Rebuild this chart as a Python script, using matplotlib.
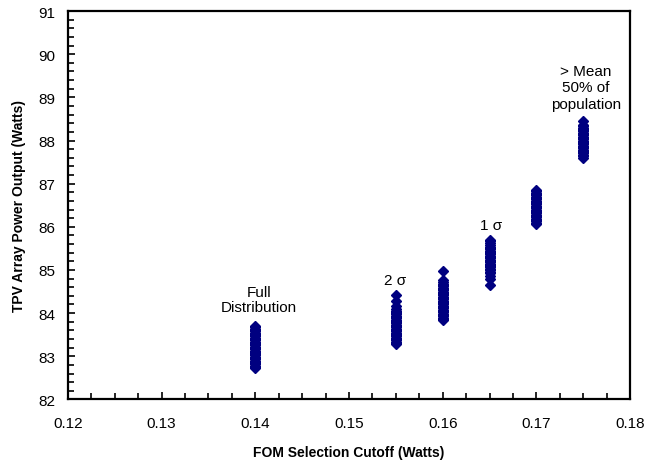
import matplotlib
matplotlib.use('Agg')
import matplotlib.pyplot as plt
from matplotlib.ticker import MultipleLocator

plt.rcParams['font.family'] = ['Liberation Sans', 'DejaVu Sans']

# FOM cutoff for each column of points
cutoffs = [0.14, 0.155, 0.16, 0.165, 0.17, 0.175]

# array power output (W)
pw_full = [82.72, 82.75, 82.78, 82.81, 82.84, 82.87, 82.9, 82.93, 82.96, 82.99, 83.02,
           83.05, 83.08, 83.1, 83.13, 83.16, 83.19, 83.22, 83.25, 83.28, 83.31, 83.34,
           83.37, 83.4, 83.43, 83.46, 83.49, 83.52, 83.55, 83.58, 83.61, 83.64, 83.67, 83.71]
pw_0155 = [83.28, 83.31, 83.34, 83.37, 83.4, 83.43, 83.46, 83.49, 83.52, 83.55, 83.58,
           83.61, 83.64, 83.67, 83.7, 83.73, 83.76, 83.79, 83.82, 83.85, 83.88, 83.91,
           83.94, 83.97, 84.0, 84.03, 84.06, 84.1, 84.17, 84.28, 84.43]
pw_016 = [83.83, 83.86, 83.89, 83.93, 83.96, 83.99, 84.02, 84.05, 84.08, 84.11, 84.14,
          84.17, 84.2, 84.23, 84.26, 84.29, 84.32, 84.35, 84.38, 84.41, 84.44, 84.47,
          84.5, 84.53, 84.56, 84.59, 84.62, 84.65, 84.68, 84.72, 84.77, 84.98]
pw_0165 = [84.65, 84.78, 84.86, 84.92, 84.96, 85.0, 85.03, 85.06, 85.09, 85.12, 85.15,
           85.18, 85.21, 85.24, 85.27, 85.3, 85.33, 85.36, 85.39, 85.42, 85.45, 85.48,
           85.51, 85.54, 85.58, 85.62, 85.66, 85.7]
pw_017 = [86.07, 86.1, 86.13, 86.16, 86.19, 86.22, 86.25, 86.28, 86.31, 86.34, 86.37,
          86.4, 86.43, 86.46, 86.49, 86.52, 86.55, 86.58, 86.61, 86.64, 86.67, 86.7,
          86.73, 86.76, 86.79, 86.82, 86.85]
pw_0175 = [87.6, 87.64, 87.67, 87.7, 87.73, 87.76, 87.79, 87.82, 87.85, 87.88, 87.91,
           87.94, 87.97, 88.0, 88.03, 88.06, 88.09, 88.12, 88.15, 88.18, 88.21, 88.24,
           88.27, 88.3, 88.33, 88.37, 88.45]
columns = [pw_full, pw_0155, pw_016, pw_0165, pw_017, pw_0175]

fig = plt.figure(figsize=(6.47, 4.64), dpi=100)
ax = fig.add_axes([0.105, 0.137, 0.869, 0.837])

for xc, vals in zip(cutoffs, columns):
    ax.plot([xc] * len(vals), vals, linestyle='none', marker='D', markersize=5,
            color='#000080', markeredgewidth=1.0, markeredgecolor='#000080')

ax.set_xlim(0.12, 0.18)
ax.set_ylim(82, 91)
ax.xaxis.set_major_locator(MultipleLocator(0.01))
ax.xaxis.set_minor_locator(MultipleLocator(0.0025))
ax.yaxis.set_major_locator(MultipleLocator(1))
ax.yaxis.set_minor_locator(MultipleLocator(0.2))
ax.xaxis.set_major_formatter(plt.FormatStrFormatter('%.2f'))
ax.tick_params(which='both', direction='in', top=False, right=False, labelsize=11, width=1.2)
ax.tick_params(which='major', length=5)
ax.tick_params(axis='x', which='major', pad=12)
ax.tick_params(axis='y', which='major', pad=9)
ax.tick_params(which='minor', length=4)
for s in ax.spines.values():
    s.set_linewidth(1.6)

ax.set_xlabel('FOM Selection Cutoff (Watts)', fontsize=10, fontweight='bold', labelpad=11)
ax.set_ylabel('TPV Array Power Output (Watts)', fontsize=10, fontweight='bold', labelpad=9)

ax.text(0.1404, 83.97, 'Full\nDistribution', ha='center', va='bottom', fontsize=11, linespacing=1.1)
ax.text(0.1549, 84.6, '2 σ', ha='center', va='bottom', fontsize=11)
ax.text(0.1652, 85.87, '1 σ', ha='center', va='bottom', fontsize=11)
ax.text(0.1753, 88.68, '> Mean\n50% of\npopulation', ha='center', va='bottom', fontsize=11,
        linespacing=1.25)

fig.savefig('out.png', dpi=100)
